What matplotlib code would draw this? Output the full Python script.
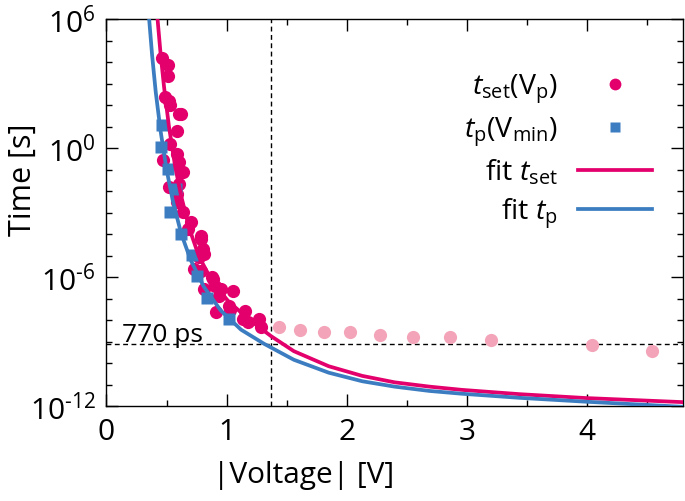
import numpy as np
import matplotlib
matplotlib.use("Agg")
import matplotlib.pyplot as plt
from matplotlib.ticker import FixedLocator, MultipleLocator, FuncFormatter
from matplotlib.lines import Line2D

plt.rcParams['font.family'] = ['Open Sans', 'DejaVu Sans']
plt.rcParams['mathtext.fontset'] = 'custom'
plt.rcParams['mathtext.rm'] = 'Open Sans'
plt.rcParams['mathtext.it'] = 'Open Sans:italic'

MAG = '#E4006C'
BLUE = '#3B7DC0'
PINK = '#F3A4B8'

# t_set(V_p) measured points: voltage [V], log10(time [s])
tset_V = [0.46, 0.51, 0.51, 0.49, 0.53, 0.60, 0.59, 0.53, 0.59, 0.47, 0.64, 0.52,
          0.60, 0.59, 0.64, 0.70, 0.68, 0.79, 0.80, 0.73, 0.79, 0.88, 0.90, 0.94,
          1.05, 0.91, 1.02, 1.15, 1.14, 1.27, 1.29, 1.18, 0.77, 0.81, 0.52, 0.62,
          0.60, 0.62, 0.59, 0.79, 0.89, 0.95, 0.81, 1.03]
tset_log = [4.19, 3.86, 3.35, 2.37, 2.00, 1.58, 0.79, 0.19, -0.28, -0.56, -1.12, -1.81,
            -1.67, -2.14, -2.98, -3.44, -3.77, -4.23, -4.70, -5.63, -5.72, -6.00, -6.40, -6.88,
            -6.65, -7.63, -7.35, -7.58, -7.95, -7.95, -8.33, -8.10, -5.07, -4.93, 2.20, 1.58,
            -0.65, -1.10, -2.50, -4.10, -6.09, -6.55, -6.55, -7.55]

# t_set points beyond 1.37 V (faded)
tset_far_V = [1.44, 1.61, 1.81, 2.03, 2.28, 2.55, 2.86, 3.20, 4.04, 4.54]
tset_far_log = [-8.33, -8.46, -8.56, -8.56, -8.70, -8.79, -8.79, -8.93, -9.16, -9.44]

# t_p(V_min) points
tp_V = [0.46, 0.45, 0.51, 0.58, 0.53, 0.62, 0.71, 0.75, 0.84, 1.02]
tp_log = [1.08, 0.05, -0.99, -1.92, -2.96, -4.00, -4.97, -5.97, -6.96, -7.97]

# fit curves
fit_set_V = [0.425, 0.45, 0.48, 0.52, 0.57, 0.62, 0.69, 0.77, 0.88, 1.01, 1.18, 1.37,
             1.56, 1.85, 2.13, 2.40, 2.69, 2.96, 3.44, 3.99, 4.84]
fit_set_log = [6.0, 4.4, 2.8, 1.0, -0.8, -2.2, -3.75, -5.05, -6.2, -7.1, -7.95, -8.75,
               -9.45, -10.15, -10.6, -10.9, -11.1, -11.25, -11.45, -11.63, -11.83]
fit_p_V = [0.355, 0.38, 0.41, 0.45, 0.50, 0.55, 0.62, 0.70, 0.81, 0.95, 1.12, 1.31,
           1.56, 1.85, 2.13, 2.40, 2.69, 2.96, 3.44, 3.99, 4.84]
fit_p_log = [6.0, 4.3, 2.6, 0.8, -1.0, -2.4, -3.95, -5.2, -6.45, -7.55, -8.45, -9.1,
             -9.85, -10.45, -10.85, -11.1, -11.3, -11.43, -11.62, -11.8, -12.05]

V_mark = 1.37
t_mark = 770e-12

fig = plt.figure(figsize=(6.85, 5.02), dpi=100)
ax = fig.add_axes([106.5/685, 1-407/502, (683-106.5)/685, (407-20)/502])

def p10(a):
    return 10.0 ** np.asarray(a)

ax.axvline(V_mark, color='black', lw=1.0, ls=(0, (3.5, 2.5)), zorder=1)
ax.axhline(t_mark, color='black', lw=1.0, ls=(0, (3.5, 2.5)), zorder=1)

ax.plot(tset_far_V, p10(tset_far_log), 'o', color=PINK, ms=9.5, mec='none', zorder=2)
ax.plot(tset_V, p10(tset_log), 'o', color=MAG, ms=9.5, mec='none', zorder=3)
ax.plot(tp_V, p10(tp_log), 's', color=BLUE, ms=8.5, mec='none', zorder=4)
ax.plot(fit_set_V, p10(fit_set_log), '-', color=MAG, lw=2.7, zorder=5)
ax.plot(fit_p_V, p10(fit_p_log), '-', color=BLUE, lw=2.7, zorder=5)

ax.text(0.13, t_mark * 1.38, '770 ps', fontsize=19, ha='left', va='baseline')

ax.set_yscale('log')
ax.set_xlim(0, 4.8)
ax.set_ylim(1e-12, 1e6)
ax.xaxis.set_major_locator(MultipleLocator(1))
ax.xaxis.set_minor_locator(MultipleLocator(0.5))
ax.yaxis.set_major_locator(FixedLocator([1e-12, 1e-6, 1e0, 1e6]))
ax.yaxis.set_minor_locator(FixedLocator([10.0**k for k in range(-12, 7)]))

def yfmt(v, p):
    e = int(round(np.log10(v)))
    return r'$\mathregular{10^{\text{%d}}}$' % e

ax.yaxis.set_major_formatter(FuncFormatter(yfmt))
ax.yaxis.set_minor_formatter(FuncFormatter(lambda v, p: ''))
ax.tick_params(which='both', direction='in', top=True, right=True, width=1.0, labelsize=21.5)
ax.tick_params(which='major', length=8.5, pad=8)
ax.tick_params(which='minor', length=4.3)
for s in ax.spines.values():
    s.set_linewidth(1.0)

ax.set_xlabel('|Voltage| [V]', fontsize=21.5)
ax.set_ylabel('Time [s]', fontsize=22)
ax.xaxis.set_label_coords((304 - 106.5) / 576.5, (407 - 461) / 387)
ax.yaxis.set_label_coords((38 - 106.5) / 576.5, (407 - 180) / 387)

handles = [
    Line2D([], [], ls='none', marker='o', color=MAG, ms=8.5, mec='none'),
    Line2D([], [], ls='none', marker='s', color=BLUE, ms=7.5, mec='none'),
    Line2D([], [], color=MAG, lw=2.7),
    Line2D([], [], color=BLUE, lw=2.7),
]
labels = [r'$t_{\mathrm{set}}$(V$_{\mathrm{p}}$)', r'$t_{\mathrm{p}}$(V$_{\mathrm{min}}$)',
          r'fit $t_{\mathrm{set}}$', r'fit $t_{\mathrm{p}}$']
ax.legend(handles, labels, loc='upper right', bbox_to_anchor=(0.99, 0.93), frameon=False,
          markerfirst=False, fontsize=20.5, handlelength=2.6, labelspacing=0.32, handletextpad=0.7)

fig.savefig('out.png', dpi=100)
